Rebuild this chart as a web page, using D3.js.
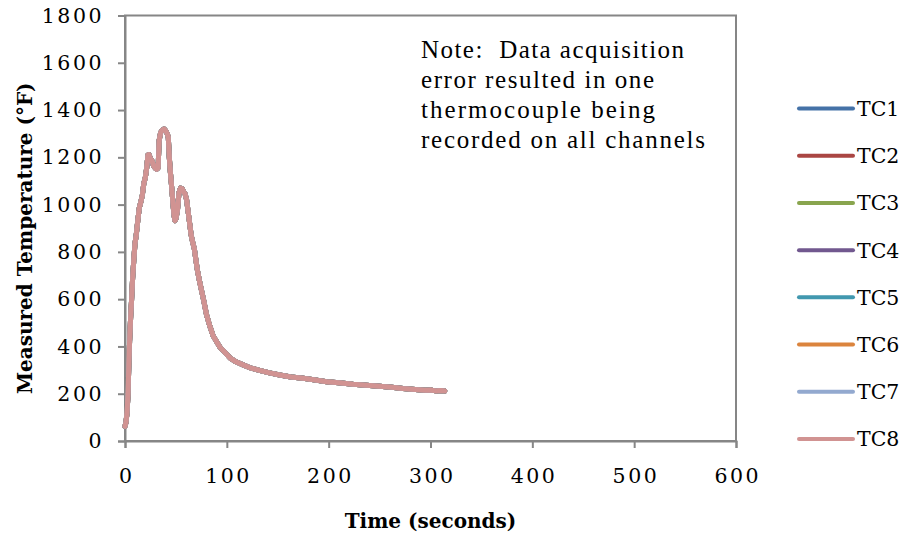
<!DOCTYPE html>
<html><head><meta charset="utf-8">
<script src="https://cdn.jsdelivr.net/npm/d3@7"></script>
<style>
html,body{margin:0;padding:0;background:#fff;}
svg{display:block;}
</style></head>
<body>
<svg id="chart" width="907" height="536"></svg>
<script>
// ---- data ----
const times = [0,1,2,3,3.8,4.5,5.5,6.5,7.5,8.7,9.8,11,12.5,14,15.5,17,18.5,20,21.3,22.5,23.5,25,26.5,28,29.5,31,32.5,33.5,35,36.5,38.5,40,41.5,42.5,43.5,44.5,45.8,47,48,49,50,51.5,53,54.5,56,57.5,59,60.5,62,63.5,65,66.5,68,69.5,71,73,75,77.5,80,83,86.5,90,93.5,98,103,109,116,124,133,142,152,163,175,187,198,210,224,237,250,262,273,285,295,300,305,310,314];
const temps = [62,80,120,200,330,420,520,600,690,770,835,870,930,985,1010,1040,1090,1115,1155,1210,1212,1195,1185,1165,1155,1150,1155,1270,1305,1315,1320,1312,1300,1285,1200,1140,1075,1010,960,932,940,975,1050,1070,1068,1055,1045,1020,970,920,870,840,815,770,725,680,640,590,535,490,445,420,395,375,352,335,322,308,298,288,279,271,265,258,251,246,240,236,232,227,222,218,215,216,212,214,212];
// All eight channels recorded the same thermocouple
const seriesNames = ["TC1","TC2","TC3","TC4","TC5","TC6","TC7","TC8"];
const seriesColors = ["#4572A7","#AA4643","#89A54E","#71588F","#4198AF","#DB843D","#93A9CF","#D19392"];
const xTicks = [0,100,200,300,400,500,600];
const yTicks = [0,200,400,600,800,1000,1200,1400,1600,1800];
const noteLines = ["Note:  Data acquisition","error resulted in one","thermocouple being","recorded on all channels"];
const xTitle = "Time (seconds)";
const yTitle = "Measured Temperature (°F)";

// ---- layout ----
const svg = d3.select("#chart");
const L = 125, R = 736, T = 15.5, B = 441;
const x = d3.scaleLinear().domain([0,600]).range([L,R]);
const y = d3.scaleLinear().domain([0,1800]).range([B,T]);
const axisColor = "#868686";
const tickFont = "'DejaVu Serif', serif";

// plot box
svg.append("rect").attr("x",L).attr("y",T).attr("width",R-L).attr("height",B-T)
  .attr("fill","none").attr("stroke",axisColor).attr("stroke-width",2);

// axes
const xAxis = svg.append("g").attr("transform",`translate(0,${B})`)
  .call(d3.axisBottom(x).tickValues(xTicks).tickSize(7).tickPadding(20).tickFormat(d3.format("d")));
const yAxis = svg.append("g").attr("transform",`translate(${L},0)`)
  .call(d3.axisLeft(y).tickValues(yTicks).tickSize(7).tickPadding(14).tickFormat(d3.format("d")));
[xAxis,yAxis].forEach(g=>{
  g.select(".domain").attr("stroke",axisColor).attr("stroke-width",2);
  g.selectAll(".tick line").attr("stroke",axisColor).attr("stroke-width",2);
  g.selectAll(".tick text").attr("fill","#000").style("font-family",tickFont)
    .style("font-size","20.5px").style("letter-spacing","2.5px");
});
xAxis.selectAll(".tick text").attr("dx","1.25px");

// series lines (TC8 drawn last, on top)
const line = d3.line().x((d,i)=>x(times[i])).y(d=>y(d));
seriesNames.forEach((name,k)=>{
  svg.append("path").datum(temps).attr("d",line)
    .attr("fill","none").attr("stroke",seriesColors[k]).attr("stroke-width",5)
    .attr("stroke-linejoin","round").attr("stroke-linecap","round");
});

// legend
const legY = d3.scalePoint().domain(seriesNames).range([108.5,439]);
const leg = svg.append("g");
seriesNames.forEach((name,k)=>{
  const yy = legY(name);
  leg.append("line").attr("x1",799).attr("x2",853).attr("y1",yy).attr("y2",yy)
    .attr("stroke",seriesColors[k]).attr("stroke-width",4).attr("stroke-linecap","round");
  leg.append("text").attr("x",857).attr("y",yy).attr("dy","0.36em")
    .style("font-family",tickFont).style("font-size","20.5px").text(name);
});

// axis titles
svg.append("text").attr("x",(L+R)/2).attr("y",521).attr("dy","0.35em")
  .attr("text-anchor","middle").style("font-family",tickFont).style("font-weight","bold")
  .style("font-size","20px").text(xTitle);
svg.append("text").attr("transform",`translate(25,${(T+B)/2+10}) rotate(-90)`).attr("dy","0.35em")
  .attr("text-anchor","middle").style("font-family",tickFont).style("font-weight","bold")
  .style("font-size","20px").text(yTitle);

// note
const noteWidths = [263, 233, 234, 284];
const note = svg.append("text").style("font-family","'Liberation Serif', 'Times New Roman', serif")
  .style("font-size","25px").style("white-space","pre").attr("fill","#000");
noteLines.forEach((s,i)=>{
  note.append("tspan").attr("x",421).attr("y",58+i*30)
    .attr("textLength",noteWidths[i]).attr("lengthAdjust","spacing").text(s);
});
</script>
</body></html>
